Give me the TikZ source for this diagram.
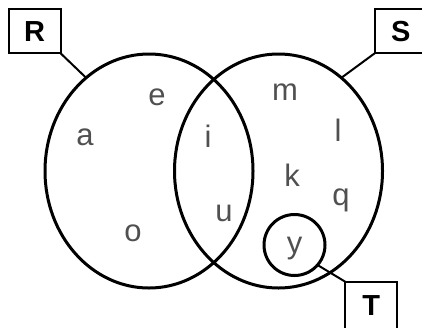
\documentclass[tikz,border=0pt]{standalone}
\usepackage{fontspec}
\setmainfont{Liberation Sans}
\usetikzlibrary{shapes.geometric}
\definecolor{elemgray}{HTML}{505050}
\tikzset{
  setline/.style={ellipse, draw, line width=3pt, inner sep=0pt, outer sep=0pt},
  namebox/.style={draw, line width=2pt, inner sep=0pt, outer sep=0pt,
    minimum width=52pt, minimum height=44pt,
    font=\fontsize{29}{29}\selectfont\bfseries},
  connline/.style={line width=2pt},
  elem/.style={anchor=base, text=elemgray, font=\fontsize{31}{31}\selectfont}
}
\begin{document}
\begin{tikzpicture}[x=1pt, y=-1pt]
        \useasboundingbox (0,0) rectangle (422,327);
        \clip (0,0) rectangle (422,327);

        % Draw the sets
        \node[setline, minimum width=208pt, minimum height=234pt] (Rset) at (149,171) {};
        \node[setline, minimum width=208pt, minimum height=234pt] (Sset) at (278.5,171) {};
        \node[setline, minimum width=61pt, minimum height=61pt] (Tset) at (294.5,245) {};

        % Set names
        \node[namebox] (Rbox) at (34.6,31.3) {R};
        \node[namebox] (Sbox) at (400.7,31.3) {S};
        \node[namebox, minimum height=48pt] (Tbox) at (371.2,305.7) {T};

        \draw[connline] (Rbox.south east) -- (Rset.124);
        \draw[connline] (Sbox.south west) -- (Sset.56);
        \draw[connline] (Tset.-41) -- (Tbox.north west);

        % Elements
        \node[elem] (ea) at (85,145.7) {a};
        \node[elem] (ee) at (157,105.7) {e};
        \node[elem] (eo) at (133,241.7) {o};
        \node[elem] (ei) at (208,147) {i};
        \node[elem] (eu) at (224,221.7) {u};
        \node[elem] (em) at (285,100) {m};
        \node[elem] (el) at (338,141.7) {l};
        \node[elem] (ek) at (292,186.7) {k};
        \node[elem] (eq) at (341,205) {q};
        \node[elem] (ey) at (294.5,253.5) {y};

    \end{tikzpicture}
\end{document}
